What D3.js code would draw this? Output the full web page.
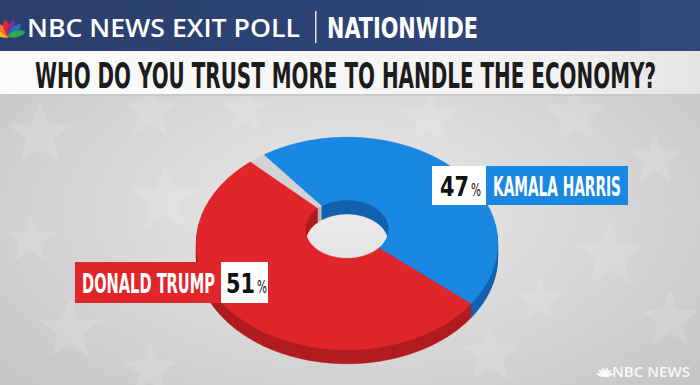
<!DOCTYPE html>
<html>
<head>
<meta charset="utf-8">
<script src="https://cdn.jsdelivr.net/npm/d3@7"></script>
<style>
  html, body { margin: 0; padding: 0; overflow: hidden; background: #d6d6d6; }
  svg { display: block; }
</style>
</head>
<body>
<svg id="chart"></svg>
<script>
"use strict";

// data
const candidates = ["DONALD TRUMP", "OTHER", "KAMALA HARRIS"];
const shares = [51, 2, 47];
const headerLeft = "NBC NEWS EXIT POLL";
const headerRight = "NATIONWIDE";
const question = "WHO DO YOU TRUST MORE TO HANDLE THE ECONOMY?";

const width = 700;
const height = 385;

const topColors = { "DONALD TRUMP": "#e0262a", "OTHER": "#d3d3d3", "KAMALA HARRIS": "#1a87e2" };
const sideColors = { "DONALD TRUMP": "#b01c20", "OTHER": "#b9b9b9", "KAMALA HARRIS": "#1262b0" };

const narrow = "'Liberation Sans Narrow', 'DejaVu Sans Condensed', sans-serif";

const svg = d3.select("#chart").attr("width", width).attr("height", height);
const defs = svg.append("defs");

// ---------- background ----------
const bg = defs.append("radialGradient").attr("id", "bg")
  .attr("cx", "50%").attr("cy", "55%").attr("r", "65%");
bg.append("stop").attr("offset", "0%").attr("stop-color", "#ebebeb");
bg.append("stop").attr("offset", "100%").attr("stop-color", "#c6c6c6");
svg.append("rect").attr("width", width).attr("height", height).attr("fill", "url(#bg)");

const starPts = (cx, cy, r) => d3.range(10).map((i) => {
  const a = (i * Math.PI) / 5 - Math.PI / 2;
  const rr = i % 2 === 0 ? r : r * 0.42;
  return [cx + rr * Math.cos(a), cy + rr * Math.sin(a)];
});
const stars = [[40, 135, 34], [150, 112, 28], [165, 200, 36], [245, 110, 26], [430, 118, 30],
  [575, 115, 32], [655, 160, 28], [610, 255, 36], [670, 320, 30], [70, 330, 32],
  [150, 370, 28], [490, 355, 30], [30, 240, 26], [540, 300, 24]];
svg.append("g").selectAll("path").data(stars).enter().append("path")
  .attr("d", (s) => "M" + starPts(s[0], s[1], s[2]).join("L") + "Z")
  .attr("fill", "#ffffff").attr("opacity", 0.13);

// ---------- header ----------
const hdr = defs.append("linearGradient").attr("id", "hdr");
hdr.append("stop").attr("offset", "0%").attr("stop-color", "#2a3f6d");
hdr.append("stop").attr("offset", "100%").attr("stop-color", "#30477a");
svg.append("rect").attr("width", width).attr("height", 51).attr("fill", "url(#hdr)");

const band = defs.append("linearGradient").attr("id", "band");
band.append("stop").attr("offset", "0%").attr("stop-color", "#fbfbfb");
band.append("stop").attr("offset", "80%").attr("stop-color", "#f2f2f2");
band.append("stop").attr("offset", "100%").attr("stop-color", "#e4e4e4");
svg.append("rect").attr("y", 51).attr("width", width).attr("height", 43).attr("fill", "url(#band)");
svg.append("rect").attr("y", 94).attr("width", width).attr("height", 2).attr("fill", "#c9c9c9");

// peacock, cut by the left edge
const feathers = ["#f6b81a", "#ef7d1e", "#e3243b", "#6d3a8f", "#1f74c4", "#2fa84f"];
svg.append("g").selectAll("ellipse").data(feathers).enter().append("ellipse")
  .attr("cx", 0).attr("cy", -8).attr("rx", 3.2).attr("ry", 8.5)
  .attr("fill", (d) => d)
  .attr("transform", (d, i) => `translate(9,36) rotate(${-75 + i * 30})`);

svg.append("text").attr("x", 27).attr("y", 37)
  .attr("font-family", "'Open Sans', sans-serif").attr("font-weight", 600)
  .attr("font-size", 25).attr("fill", "#ffffff")
  .attr("textLength", 273).attr("lengthAdjust", "spacingAndGlyphs")
  .text(headerLeft);
svg.append("rect").attr("x", 315).attr("y", 11).attr("width", 1.5).attr("height", 32).attr("fill", "#dfe4ee");
svg.append("text").attr("x", 327).attr("y", 38)
  .attr("font-family", narrow).attr("font-weight", 700)
  .attr("font-size", 29).attr("fill", "#ffffff")
  .attr("textLength", 151).attr("lengthAdjust", "spacingAndGlyphs")
  .text(headerRight);

svg.append("text").attr("x", 35).attr("y", 88)
  .attr("font-family", narrow).attr("font-weight", 700)
  .attr("font-size", 36).attr("fill", "#1c1c1c")
  .attr("textLength", 621).attr("lengthAdjust", "spacingAndGlyphs")
  .text(question);

// ---------- donut in perspective ----------
const cx = 347, cy = 228, ax = 149, by = 104, persp = 0.1456;
const inner = 0.28, thick = 14;
const proj = (r, a) => {
  const X = r * Math.sin(a), Z = r * Math.cos(a);
  const w = 1 + persp * Z;
  return [cx + (ax * X) / w, cy - (by * Z) / w];
};

const deg = (v) => (v * Math.PI) / 180;
const pie = d3.pie().sort(null).value((d) => d.share)
  .startAngle(deg(131)).endAngle(deg(131 + 360));
const arcs = pie(candidates.map((c, i) => ({ name: c, share: shares[i] })));

const line = d3.line().curve(d3.curveLinearClosed);
const slicePoints = (d, dy) => {
  const n = Math.max(6, Math.ceil((d.endAngle - d.startAngle) / 0.015));
  const steps = d3.range(n + 1).map((i) => d.startAngle + ((d.endAngle - d.startAngle) * i) / n);
  const outerPts = steps.map((a) => proj(1, a));
  const innerPts = steps.slice().reverse().map((a) => proj(inner, a));
  return outerPts.concat(innerPts).map((p) => [p[0], p[1] + dy]);
};

const donut = svg.append("g");
d3.range(thick, -1, -1).forEach((k) => {
  donut.append("g").selectAll("path").data(arcs).enter().append("path")
    .attr("d", (d) => line(slicePoints(d, k)))
    .attr("fill", (d) => (k === 0 ? topColors[d.data.name] : sideColors[d.data.name]))
    .attr("stroke", (d) => (k === 0 ? topColors[d.data.name] : sideColors[d.data.name]))
    .attr("stroke-width", 0.6);
});

// ---------- labels ----------
const byName = (n) => arcs.find((a) => a.data.name === n).data;

const pctText = (g, x, y, value) => {
  g.append("text").attr("x", x).attr("y", y)
    .attr("font-family", narrow).attr("font-weight", 700)
    .attr("font-size", 27).attr("fill", "#111111")
    .attr("textLength", 29).attr("lengthAdjust", "spacingAndGlyphs")
    .text(value);
  g.append("text").attr("x", x + 31).attr("y", y)
    .attr("font-family", narrow).attr("font-weight", 400)
    .attr("font-size", 17).attr("fill", "#111111")
    .attr("textLength", 10).attr("lengthAdjust", "spacingAndGlyphs")
    .text("%");
};

const nameText = (g, x, y, w, name) => {
  g.append("text").attr("x", x).attr("y", y)
    .attr("font-family", narrow).attr("font-weight", 700)
    .attr("font-size", 26).attr("fill", "#ffffff")
    .attr("textLength", w).attr("lengthAdjust", "spacingAndGlyphs")
    .text(name);
};

const harris = byName("KAMALA HARRIS");
const hg = svg.append("g");
hg.append("rect").attr("x", 432).attr("y", 166).attr("width", 54).attr("height", 39).attr("fill", "#ffffff");
hg.append("rect").attr("x", 486).attr("y", 166).attr("width", 142).attr("height", 39).attr("fill", topColors[harris.name]);
pctText(hg, 440, 196, harris.share);
nameText(hg, 493, 196, 128, harris.name);

const trump = byName("DONALD TRUMP");
const tg = svg.append("g");
tg.append("rect").attr("x", 75).attr("y", 262).attr("width", 146).attr("height", 41).attr("fill", topColors[trump.name]);
tg.append("rect").attr("x", 221).attr("y", 262).attr("width", 47).attr("height", 41).attr("fill", "#ffffff");
nameText(tg, 82, 293, 133, trump.name);
pctText(tg, 226, 293, trump.share);

// ---------- watermark ----------
svg.append("g").selectAll("ellipse").data(feathers).enter().append("ellipse")
  .attr("cx", 0).attr("cy", -4).attr("rx", 1.5).attr("ry", 4.5)
  .attr("fill", "#ffffff").attr("opacity", 0.85)
  .attr("transform", (d, i) => `translate(605,376) rotate(${-75 + i * 30})`);
svg.append("text").attr("x", 612).attr("y", 377)
  .attr("font-family", "'Open Sans', sans-serif").attr("font-weight", 600)
  .attr("font-size", 15).attr("fill", "#ffffff").attr("opacity", 0.9)
  .attr("textLength", 78).attr("lengthAdjust", "spacingAndGlyphs")
  .text("NBC NEWS");
</script>
</body>
</html>
